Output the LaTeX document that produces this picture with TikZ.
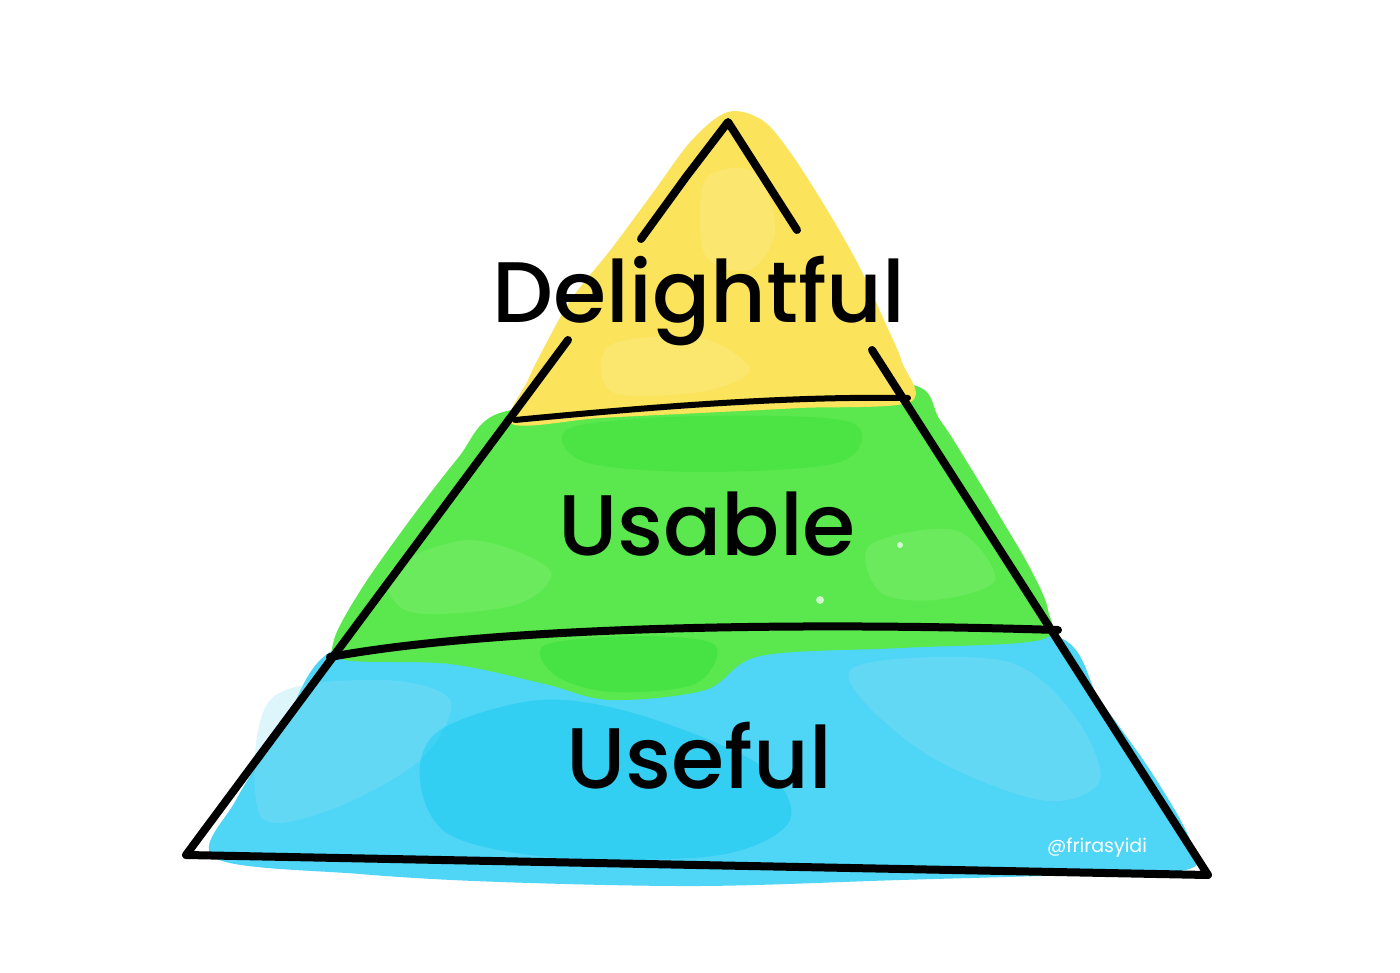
\documentclass[tikz,border=0pt]{standalone}
\usepackage{fontspec}
\newfontfamily\labelfont{Poppins}[UprightFont={* Medium}]
\newfontfamily\tagfont{Poppins}
\definecolor{wyellow}{HTML}{FBE35C}
\definecolor{wyellowlt}{HTML}{FDEE98}
\definecolor{wgreen}{HTML}{5BE84E}
\definecolor{wgreendk}{HTML}{3ADE3C}
\definecolor{wgreenlt}{HTML}{8DF07E}
\definecolor{wblue}{HTML}{4FD5F5}
\definecolor{wbluedk}{HTML}{12C9F2}
\definecolor{wbluelt}{HTML}{8FE2F8}
\tikzset{
  outline/.style={line width=8pt, line cap=round, line join=round, black},
  thinline/.style={line width=6pt, line cap=round, line join=round, black},
  lbl/.style={font=\labelfont\fontsize{86}{90}\selectfont, anchor=base, inner sep=0pt, text=black},
  tag/.style={font=\tagfont\fontsize{19}{22}\selectfont, anchor=base, inner sep=0pt, text=white},
  wash/.style={smooth cycle, tension=0.55}
}
\begin{document}
\begin{tikzpicture}[x=1pt,y=-1pt]
\useasboundingbox (0,0) rectangle (1400,973);
\fill[white] (0,0) rectangle (1400,973);

% ---------- watercolour washes ----------
% blue
\fill[wblue] plot[wash] coordinates {(338,648) (500,640) (700,636) (900,634) (1056,636) (1100,700) (1150,770) (1188,835) (1192,868) (1100,874) (900,880) (700,886) (500,882) (360,874) (215,858) (236,800) (282,728)};
\fill[wbluelt, opacity=0.3] plot[wash] coordinates {(270,700) (380,680) (450,700) (420,760) (330,810) (260,815)};
\fill[wbluelt, opacity=0.3] plot[wash] coordinates {(850,670) (1000,660) (1070,710) (1100,780) (1040,800) (920,750)};
\fill[wbluedk, opacity=0.45] plot[wash] coordinates {(440,730) (540,700) (640,715) (760,765) (790,820) (720,855) (560,858) (450,835) (420,780)};
% green
\fill[wgreen] plot[wash] coordinates {(497,414) (600,402) (750,392) (908,384) (940,420) (972,470) (1002,520) (1030,568) (1048,610) (1040,640) (900,648) (760,656) (705,690) (610,700) (545,684) (450,664) (345,660) (334,640) (362,588) (410,520) (458,458)};
\fill[wgreendk, opacity=0.45] plot[wash] coordinates {(570,428) (700,416) (850,422) (840,462) (700,472) (585,462)};
\fill[wgreendk, opacity=0.6] plot[wash] coordinates {(545,645) (640,636) (715,645) (695,684) (612,692) (556,676)};
\fill[wgreenlt, opacity=0.3] plot[wash] coordinates {(390,570) (470,540) (550,570) (515,605) (410,612)};
\fill[wgreenlt, opacity=0.3] plot[wash] coordinates {(870,545) (955,530) (995,580) (935,600) (880,592)};
\fill[white, opacity=0.7] (708,330) circle (5) (1096,520) circle (8) (820,600) circle (4) (900,545) circle (3);
% yellow
\fill[wyellow] plot[wash] coordinates {(728,112) (762,120) (790,152) (826,208) (858,264) (884,320) (902,362) (910,402) (800,408) (700,413) (600,418) (512,424) (528,380) (548,340) (572,298) (612,248) (652,194) (692,140)};
\fill[wyellowlt, opacity=0.35] plot[wash] coordinates {(705,180) (755,172) (775,230) (750,270) (705,255)};
\fill[wyellowlt, opacity=0.3] plot[wash] coordinates {(610,345) (700,338) (750,370) (700,392) (612,392)};

% ---------- outline ----------
\coordinate (apex) at (728,122);
\coordinate (kink) at (686,177);
\coordinate (lu) at (641,239);
\coordinate (ru) at (797,230);
\coordinate (ll) at (568,340);
\coordinate (rl) at (872,350);
\coordinate (bl) at (186,855);
\coordinate (br) at (1208,875);
\coordinate (d1l) at (515,420);
\coordinate (d1r) at (908,398);
\coordinate (d2l) at (330,657);
\coordinate (d2r) at (1058,630);

\draw[outline] (lu) -- (kink) -- (apex) -- (ru);
\draw[outline] (ll) -- (bl) -- (br) -- (rl);
\draw[thinline] (d1l) .. controls (640,408) and (780,396) .. (d1r);
\draw[outline] (d2l) .. controls (500,626) and (800,622) .. (d2r);

% ---------- labels ----------
\node[lbl] (delightful) at (699,323) {Delightful};
\node[lbl] (usable) at (707,555) {Usable};
\node[lbl] (useful) at (699,788) {Useful};
\node[tag] (credit) at (1097,852) {@frirasyidi};
\end{tikzpicture}
\end{document}
